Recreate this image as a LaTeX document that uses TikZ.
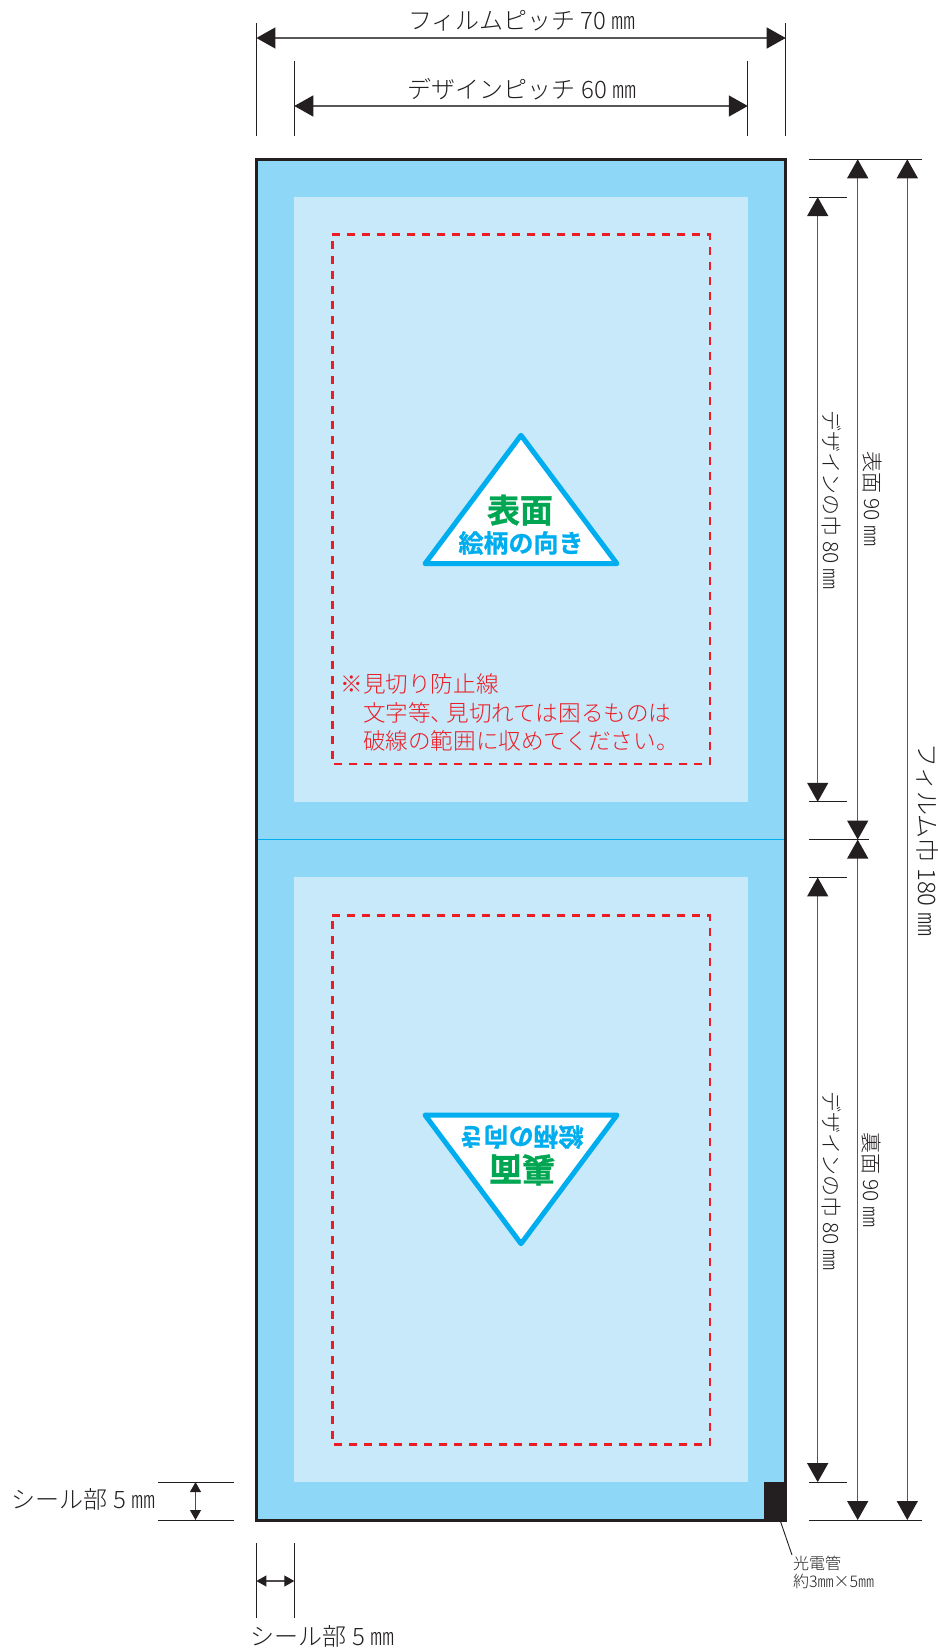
\documentclass[tikz,border=0pt]{standalone}
\usepackage{fontspec}
\setmainfont{Noto Sans CJK JP Light}[BoldFont={Noto Sans CJK JP Bold}]
\newfontfamily\heavyjp{Noto Sans CJK JP Bold}[FakeBold=1.0]
\usetikzlibrary{arrows.meta}
\definecolor{filmblue}{HTML}{8ED7F7}
\definecolor{paleblue}{HTML}{C7E9FA}
\definecolor{cyanink}{HTML}{00AEEF}
\definecolor{greenink}{HTML}{00A651}
\definecolor{redink}{HTML}{ED1C24}
\definecolor{inkblack}{HTML}{231F20}
\tikzset{
  x=1pt,y=-1pt,
  txt/.style={inner sep=0pt,outer sep=0pt,text=inkblack,font=\fontsize{24}{24}\selectfont},
  vtxt/.style={txt,rotate=-90,font=\fontsize{21}{21}\selectfont},
  rednote/.style={inner sep=0pt,outer sep=0pt,anchor=west,text=redink,font=\fontsize{22.6}{22.6}\selectfont},
  tick/.style={draw=inkblack,line width=1pt},
  bigdim/.style={draw=inkblack!75,line width=1.4pt,{Triangle[length=19pt,width=21pt,inkblack]}-{Triangle[length=19pt,width=21pt,inkblack]}},
  smalldim/.style={draw=inkblack!80,line width=1.2pt,{Triangle[length=10pt,width=11pt,inkblack]}-{Triangle[length=10pt,width=11pt,inkblack]}},
  safeline/.style={draw=redink,line width=2.6pt,dash pattern=on 8pt off 7pt},
  badge/.style={draw=cyanink,fill=white,line width=5pt,line join=round},
}
\begin{document}
\begin{tikzpicture}
\useasboundingbox (0,0) rectangle (937,1649);
% panels
\fill[filmblue] (256.4,159.3) rectangle (785.7,1520);
\fill[paleblue] (294.3,197.1) rectangle (747.8,801.8);
\fill[paleblue] (294.3,877.4) rectangle (747.8,1482.1);
\draw[safeline] (332.3,234.5) -- (710,234.5) -- (710,764) -- (332.3,764) -- cycle;
\draw[safeline] (332.3,915.2) -- (710,915.2) -- (710,1444.3) -- (332.3,1444.3) -- cycle;
\draw[cyanink,line width=1pt] (256.4,839.6) -- (785.7,839.6);
\fill[inkblack] (763.5,1482.1) rectangle (785.7,1520);
\draw[inkblack,line width=3pt] (256.4,159.3) rectangle (785.7,1520);
% badges
\draw[badge] (521,435.3) -- (617,563.7) -- (425,563.7) -- cycle;
\draw[badge] (521,1243.7) -- (617,1115) -- (425,1115) -- cycle;
\node[inner sep=0pt,text=greenink,font=\fontsize{33}{33}\heavyjp] (omote) at (520,510) {表面};
\node[inner sep=0pt,text=cyanink,font=\fontsize{25}{25}\heavyjp] (muki1) at (521,543) {絵柄の向き};
\node[inner sep=0pt,text=greenink,rotate=180,font=\fontsize{33}{33}\heavyjp] (ura) at (522,1170) {裏面};
\node[inner sep=0pt,text=cyanink,rotate=180,font=\fontsize{25}{25}\heavyjp] (muki2) at (521,1137) {絵柄の向き};
% red note
\node[rednote] (kome) at (340.5,684) {※};
\node[rednote] (note1) at (363,684) {見切り防止線};
\node[rednote] (note2) at (363,712.5) {文字等、\hspace{-0.3em}見切れては困るものは};
\node[rednote] (note3) at (363,741) {破線の範囲に収めてください。};
% coordinates of dimension ends
\coordinate (tA1) at (256.4,23); \coordinate (tA2) at (256.4,136);
\coordinate (tB1) at (785.7,23); \coordinate (tB2) at (785.7,136);
\coordinate (tC1) at (294.3,60.5); \coordinate (tC2) at (294.3,136);
\coordinate (tD1) at (747.8,60.5); \coordinate (tD2) at (747.8,136);
\coordinate (fpL) at (256.4,38); \coordinate (fpR) at (785.7,38);
\coordinate (dpL) at (294.3,106); \coordinate (dpR) at (747.8,106);
\draw[tick] (tA1) -- (tA2);
\draw[tick] (tB1) -- (tB2);
\draw[tick] (tC1) -- (tC2);
\draw[tick] (tD1) -- (tD2);
\draw[bigdim] (fpL) -- (fpR);
\draw[bigdim] (dpL) -- (dpR);
\node[txt] (fpT) at (522,20.5) {フィルムピッチ 70 ㎜};
\node[txt] (dpT) at (522,89.5) {デザインピッチ 60 ㎜};
% right ticks
\coordinate (r1a) at (809,159.3); \coordinate (r1b) at (922,159.3);
\coordinate (r2a) at (809,197.1); \coordinate (r2b) at (847,197.1);
\coordinate (r3a) at (809,801.8); \coordinate (r3b) at (847,801.8);
\coordinate (r4a) at (809,839.6); \coordinate (r4b) at (869,839.6);
\coordinate (r5a) at (809,877.4); \coordinate (r5b) at (847,877.4);
\coordinate (r6a) at (809,1482.1); \coordinate (r6b) at (847,1482.1);
\coordinate (r7a) at (809,1520); \coordinate (r7b) at (922,1520);
\draw[tick] (r1a) -- (r1b);
\draw[tick] (r2a) -- (r2b);
\draw[tick] (r3a) -- (r3b);
\draw[tick] (r4a) -- (r4b);
\draw[tick] (r5a) -- (r5b);
\draw[tick] (r6a) -- (r6b);
\draw[tick] (r7a) -- (r7b);
\coordinate (d1a) at (817.7,197.1); \coordinate (d1b) at (817.7,801.8);
\coordinate (d2a) at (817.7,877.4); \coordinate (d2b) at (817.7,1482.1);
\coordinate (o1a) at (857.7,159.3); \coordinate (o1b) at (857.7,839.6);
\coordinate (o2a) at (857.7,839.6); \coordinate (o2b) at (857.7,1520);
\coordinate (f1a) at (907.3,159.3); \coordinate (f1b) at (907.3,1520);
\draw[bigdim] (d1a) -- (d1b);
\draw[bigdim] (d2a) -- (d2b);
\draw[bigdim] (o1a) -- (o1b);
\draw[bigdim] (o2a) -- (o2b);
\draw[bigdim] (f1a) -- (f1b);
\node[vtxt] (dw1) at (832,500) {デザインの巾 80 ㎜};
\node[vtxt] (dw2) at (832,1181) {デザインの巾 80 ㎜};
\node[vtxt] (ow1) at (872,499) {表面 90 ㎜};
\node[vtxt] (ow2) at (871,1180) {裏面 90 ㎜};
\node[txt,rotate=-90] (fw) at (927.5,840) {フィルム巾 180 ㎜};
% seal dims
\coordinate (s1a) at (158,1482.1); \coordinate (s1b) at (234,1482.1);
\coordinate (s2a) at (158,1520); \coordinate (s2b) at (234,1520);
\coordinate (s3a) at (195.5,1482.1); \coordinate (s3b) at (195.5,1520);
\draw[tick] (s1a) -- (s1b);
\draw[tick] (s2a) -- (s2b);
\draw[smalldim] (s3a) -- (s3b);
\node[txt] (sealL) at (83.5,1499) {シール部 5 ㎜};
\coordinate (b1a) at (256.4,1543); \coordinate (b1b) at (256.4,1618);
\coordinate (b2a) at (294.3,1543); \coordinate (b2b) at (294.3,1618);
\coordinate (b3a) at (256.4,1581); \coordinate (b3b) at (294.3,1581);
\draw[tick] (b1a) -- (b1b);
\draw[tick] (b2a) -- (b2b);
\draw[smalldim] (b3a) -- (b3b);
\node[txt] (sealB) at (322.5,1636) {シール部 5 ㎜};
% sensor
\coordinate (lead1) at (780,1520); \coordinate (lead2) at (792,1555);
\draw[inkblack,line width=0.9pt] (lead1) -- (lead2);
\node[txt,anchor=west,font=\fontsize{16}{16}\selectfont] (sensor1) at (793,1563) {光電管};
\node[txt,anchor=west,font=\fontsize{16}{16}\selectfont] (sensor2) at (793,1581) {約3㎜×5㎜};
\end{tikzpicture}
\end{document}
